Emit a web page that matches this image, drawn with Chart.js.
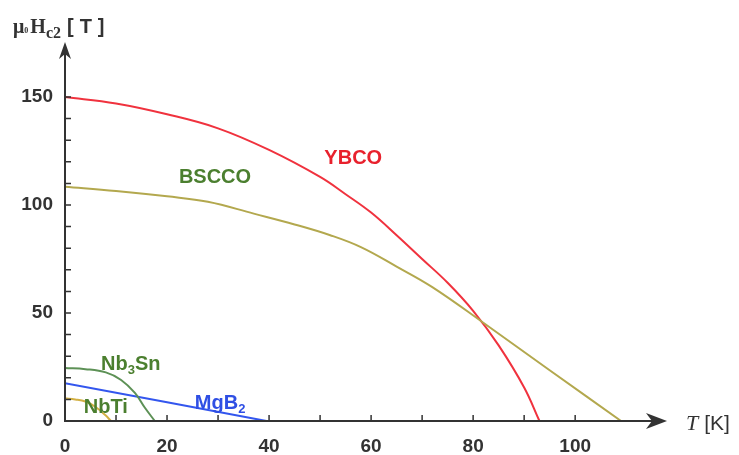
<!DOCTYPE html>
<html>
<head>
<meta charset="utf-8">
<script src="https://cdn.jsdelivr.net/npm/chart.js@4"></script>
<style>
  html, body { margin: 0; padding: 0; background: #fff; }
  #wrap { width: 739px; height: 455px; }
</style>
</head>
<body>
<div id="wrap"><canvas id="hc2Chart" width="739" height="455"></canvas></div>
<script>
// upper critical field mu0*Hc2 [T] against temperature T [K]

const ybcoT = [0, 10, 20, 30, 40, 50, 55, 60, 65, 70, 75, 80, 85, 90, 93];
const ybcoH = [150, 147, 142, 135.5, 125.5, 113, 105, 96.5, 86, 75, 64, 51, 35, 15.5, 0];

const bsccoT = [0, 10, 20, 28, 37, 45, 52, 58, 65, 72, 82, 95, 109];
const bsccoH = [108.5, 106.5, 104, 101.5, 96, 91, 86, 80.5, 71.5, 62, 45.5, 23.5, 0];

const nb3snT = [0, 4, 8, 11, 13.7, 15.7, 17.6];
const nb3snH = [24.5, 24, 22.5, 19, 13, 6, 0];

const nbtiT = [0, 2, 4, 6, 8, 9];
const nbtiH = [10.5, 10, 9, 6.5, 2.5, 0];

const mgb2T = [0, 39.5];
const mgb2H = [17.5, 0];

// labelled ticks (unlabelled ticks every 10)
const xLabelValues = [0, 20, 40, 60, 80, 100];
const yLabelValues = [0, 50, 100, 150];

const toPoints = (ts, hs) => ts.map((t, i) => ({ x: t, y: hs[i] }));

const SANS = '"Liberation Sans", Arial, sans-serif';
const SERIF = '"Liberation Serif", "Times New Roman", serif';
const AXIS_COLOR = '#333';

// draws a run of text pieces one after the other
function drawParts(ctx, parts, x, y, align) {
  let total = 0;
  parts.forEach(p => { ctx.font = p.font; total += ctx.measureText(p.t).width + (p.gap || 0); });
  let cx = align === 'center' ? x - total / 2 : x;
  parts.forEach(p => {
    ctx.font = p.font;
    ctx.fillStyle = p.color;
    ctx.fillText(p.t, cx, y + (p.dy || 0));
    cx += ctx.measureText(p.t).width + (p.gap || 0);
  });
}

const axesPlugin = {
  id: 'axesArrows',
  afterDatasetsDraw(chart) {
    const { ctx, chartArea, scales } = chart;
    const xs = scales.x, ys = scales.y;
    const x0 = xs.getPixelForValue(0);
    const y0 = ys.getPixelForValue(0);
    ctx.save();
    ctx.strokeStyle = AXIS_COLOR;
    ctx.fillStyle = AXIS_COLOR;

    ctx.lineWidth = 2;
    ctx.beginPath();
    ctx.moveTo(x0 - 1, y0);
    ctx.lineTo(chartArea.right - 12, y0);
    ctx.moveTo(x0, y0 + 1);
    ctx.lineTo(x0, chartArea.top + 10);
    ctx.stroke();

    // tick marks pointing into the plot
    ctx.lineWidth = 1.5;
    ctx.beginPath();
    xs.ticks.forEach(t => {
      if (t.value === 0) return;
      const px = xs.getPixelForValue(t.value);
      ctx.moveTo(px, y0);
      ctx.lineTo(px, y0 - 6);
    });
    ys.ticks.forEach(t => {
      if (t.value === 0) return;
      const py = ys.getPixelForValue(t.value);
      ctx.moveTo(x0, py);
      ctx.lineTo(x0 + 6, py);
    });
    ctx.stroke();

    // arrow heads
    const r = chartArea.right;
    ctx.beginPath();
    ctx.moveTo(r, y0);
    ctx.lineTo(r - 21, y0 - 8);
    ctx.lineTo(r - 15, y0);
    ctx.lineTo(r - 21, y0 + 8);
    ctx.closePath();
    ctx.fill();

    const t = chartArea.top - 1;
    ctx.beginPath();
    ctx.moveTo(x0, t);
    ctx.lineTo(x0 - 6, t + 17);
    ctx.lineTo(x0, t + 12);
    ctx.lineTo(x0 + 6, t + 17);
    ctx.closePath();
    ctx.fill();

    // axis titles
    ctx.textBaseline = 'alphabetic';
    ctx.textAlign = 'left';
    drawParts(ctx, [
      { t: 'μ', font: 'bold 20px ' + SERIF, color: AXIS_COLOR },
      { t: '0', font: 'bold 8px ' + SERIF, color: AXIS_COLOR, gap: 2 },
      { t: 'H', font: 'bold 20px ' + SERIF, color: AXIS_COLOR },
      { t: 'c2', font: 'bold 16px ' + SERIF, color: AXIS_COLOR, dy: 5, gap: 6 },
      { t: '[', font: 'bold 20px ' + SANS, color: AXIS_COLOR, gap: 6 },
      { t: 'T', font: 'bold 20px ' + SANS, color: AXIS_COLOR, gap: 6 },
      { t: ']', font: 'bold 20px ' + SANS, color: AXIS_COLOR }
    ], 13, 33, 'left');

    drawParts(ctx, [
      { t: 'T', font: 'italic 22px ' + SERIF, color: AXIS_COLOR, gap: 6 },
      { t: '[K]', font: '21px ' + SANS, color: AXIS_COLOR }
    ], 686, 430, 'left');

    // curve labels, anchored in data coordinates
    const green = '#4b7f2f';
    const lab = (parts, tx, hv) => drawParts(ctx, parts, xs.getPixelForValue(tx), ys.getPixelForValue(hv), 'center');
    const big = 'bold 20px ' + SANS, sub = 'bold 13px ' + SANS;
    lab([{ t: 'YBCO', font: big, color: '#e8212d' }], 56.5, 119);
    lab([{ t: 'BSCCO', font: big, color: green }], 29.4, 110);
    lab([{ t: 'Nb', font: big, color: green }, { t: '3', font: sub, color: green, dy: 4 }, { t: 'Sn', font: big, color: green }], 12.9, 23.5);
    lab([{ t: 'NbTi', font: big, color: green }], 8, 3.6);
    lab([{ t: 'Mg', font: big, color: '#2f4fe4' }, { t: 'B', font: big, color: '#2f4fe4' }, { t: '2', font: sub, color: '#2f4fe4', dy: 4 }], 30.4, 5.5);

    ctx.restore();
  }
};

const lineSet = (label, ts, hs, color) => ({
  label,
  data: toPoints(ts, hs),
  borderColor: color,
  borderWidth: 2,
  pointRadius: 0,
  fill: false,
  tension: 0.4
});

new Chart(document.getElementById('hc2Chart').getContext('2d'), {
  type: 'line',
  data: {
    datasets: [
      lineSet('BSCCO', bsccoT, bsccoH, '#b3a84e'),
      lineSet('YBCO', ybcoT, ybcoH, '#f0323e'),
      lineSet('NbTi', nbtiT, nbtiH, '#d2b044'),
      lineSet('Nb3Sn', nb3snT, nb3snH, '#5d9156'),
      lineSet('MgB2', mgb2T, mgb2H, '#3356ee')
    ]
  },
  options: {
    responsive: false,
    animation: false,
    devicePixelRatio: 1,
    layout: { padding: { top: 43, right: 72, left: 0, bottom: 0 } },
    plugins: {
      legend: { display: false },
      tooltip: { enabled: false }
    },
    scales: {
      x: {
        type: 'linear',
        min: 0,
        max: 118,
        grid: { display: false, drawTicks: false },
        border: { display: false },
        ticks: {
          stepSize: 10,
          autoSkip: false,
          maxRotation: 0,
          padding: 14,
          color: AXIS_COLOR,
          font: { family: SANS, size: 19, weight: 'bold' },
          callback: v => xLabelValues.includes(v) ? String(v) : ''
        },
        afterBuildTicks: s => { s.ticks = s.ticks.filter(t => t.value <= 110); },
        afterFit: s => { s.height = 34; }
      },
      y: {
        type: 'linear',
        min: 0,
        max: 175,
        grid: { display: false, drawTicks: false },
        border: { display: false },
        ticks: {
          stepSize: 10,
          autoSkip: false,
          padding: 12,
          color: AXIS_COLOR,
          font: { family: SANS, size: 19, weight: 'bold' },
          callback: v => yLabelValues.includes(v) ? String(v) : ''
        },
        afterBuildTicks: s => { s.ticks = s.ticks.filter(t => t.value <= 150); },
        afterFit: s => { s.width = 65; }
      }
    }
  },
  plugins: [axesPlugin]
});
</script>
</body>
</html>
